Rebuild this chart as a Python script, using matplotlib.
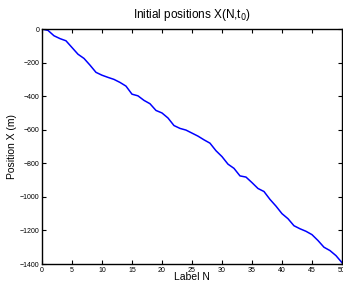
import matplotlib
matplotlib.use('Agg')
import matplotlib.pyplot as plt

plt.rcParams['font.family'] = ['Liberation Sans', 'DejaVu Sans']

# label N and initial position X (m)
labels = list(range(0, 51))
positions = [0, -8, -40, -57, -70, -110, -150, -175, -215, -258,
             -275, -288, -300, -318, -340, -388, -398, -425, -445, -485,
             -500, -530, -575, -592, -602, -620, -638, -660, -680, -725,
             -760, -805, -830, -875, -882, -915, -950, -968, -1015, -1055,
             -1100, -1130, -1172, -1190, -1205, -1225, -1260, -1300, -1320, -1350,
             -1392]

x_ticks = [0, 5, 10, 15, 20, 25, 30, 35, 40, 45, 50]
y_ticks = [0, -200, -400, -600, -800, -1000, -1200, -1400]

fig = plt.figure(figsize=(3.43, 2.82), dpi=100)
ax = fig.add_axes([0.1224, 0.0638, 0.8746, 0.8332])
ax.plot(labels, positions, color=(0, 0, 1), linewidth=1.1)

ax.set_xlim(0, 50)
ax.set_ylim(-1400, 0)
ax.set_xticks(x_ticks)
ax.set_yticks(y_ticks)
ax.tick_params(direction='in', top=True, right=True, labelsize=5, length=3, pad=2)
for s in ax.spines.values():
    s.set_linewidth(1.0)

ax.set_title('Initial positions X(N,t$_0$)', fontsize=8.5, pad=8)
ax.set_xlabel('Label N', fontsize=7.5, labelpad=-1)
ax.set_ylabel('Position X (m)', fontsize=7.5, labelpad=2)

fig.savefig('out.png', dpi=100)
